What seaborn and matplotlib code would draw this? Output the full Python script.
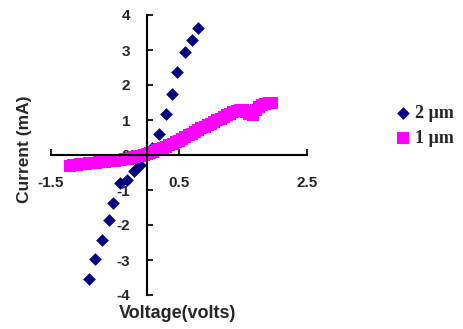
import matplotlib
matplotlib.use("Agg")
import matplotlib.pyplot as plt
import seaborn as sns
import pandas as pd

# ---- data ----
v_2um = [-0.91, -0.82, -0.71, -0.60, -0.53, -0.42, -0.31, -0.20, -0.11, 0.00,
         0.08, 0.19, 0.29, 0.39, 0.47, 0.59, 0.70, 0.79]
i_2um = [-3.54, -2.97, -2.43, -1.86, -1.37, -0.80, -0.71, -0.46, -0.29, 0.00,
         0.20, 0.60, 1.17, 1.74, 2.37, 2.94, 3.29, 3.63]

v_1um = [-1.20, -1.15, -1.10, -1.05, -1.00, -0.95, -0.90, -0.85, -0.80, -0.75,
         -0.70, -0.65, -0.60, -0.55, -0.50, -0.45, -0.40, -0.35, -0.30, -0.25,
         -0.20, -0.15, -0.10, -0.05, 0.00, 0.05, 0.10, 0.15, 0.20, 0.25,
         0.30, 0.35, 0.40, 0.45, 0.50, 0.55, 0.60, 0.65, 0.70, 0.75,
         0.80, 0.85, 0.90, 0.95, 1.00, 1.05, 1.10, 1.15, 1.20, 1.25,
         1.30, 1.35, 1.40, 1.45, 1.50, 1.55, 1.60, 1.65, 1.70, 1.75,
         1.80, 1.85, 1.90, 1.95]
i_1um = [-0.30, -0.29, -0.28, -0.27, -0.26, -0.25, -0.24, -0.23, -0.22, -0.21,
         -0.20, -0.19, -0.18, -0.17, -0.16, -0.15, -0.13, -0.12, -0.10, -0.08,
         -0.06, -0.04, -0.02, 0.00, 0.04, 0.07, 0.10, 0.13, 0.16, 0.20,
         0.24, 0.28, 0.32, 0.36, 0.41, 0.46, 0.51, 0.56, 0.61, 0.66,
         0.71, 0.76, 0.81, 0.86, 0.90, 0.95, 1.00, 1.04, 1.08, 1.13,
         1.17, 1.22, 1.26, 1.29, 1.28, 1.24, 1.17, 1.13, 1.30, 1.38,
         1.42, 1.45, 1.48, 1.50]

labels = ["2 \u00b5m", "1 \u00b5m"]
x_ticks = [-1.5, 0.5, 2.5]
y_ticks = [-4, -3, -2, -1, 0, 1, 2, 3, 4]

sns.set_style("white")
plt.rcParams["font.family"] = ["Liberation Sans", "DejaVu Sans"]

df2 = pd.DataFrame({"V": v_2um, "I": i_2um})
df1 = pd.DataFrame({"V": v_1um, "I": i_1um})

fig = plt.figure(figsize=(4.64, 3.29), dpi=100)
ax = fig.add_axes([51 / 464, 34 / 329, 256 / 464, 280 / 329])

sns.scatterplot(data=df2, x="V", y="I", marker="D", color="#000080", s=42,
                linewidth=0, label=labels[0], ax=ax)
sns.scatterplot(data=df1, x="V", y="I", marker="s", color="#FF00FF", s=80,
                linewidth=0, label=labels[1], ax=ax)

ax.set_xlim(-1.5, 2.5)
ax.set_ylim(-4, 4)
ax.spines["top"].set_visible(False)
ax.spines["right"].set_visible(False)
ax.spines["left"].set_position(("data", 0))
ax.spines["bottom"].set_position(("data", 0))
for sp in ("left", "bottom"):
    ax.spines[sp].set_linewidth(1.5)
    ax.spines[sp].set_color("black")

ax.set_xticks(x_ticks)
ax.set_xticklabels(["-1.5", "0.5", "2.5"])
ax.set_yticks(y_ticks)
ax.set_yticklabels([str(t) for t in y_ticks])
ax.tick_params(axis="x", direction="in", length=4.5, width=1.5, pad=15,
               labelsize=11, bottom=True)
ax.tick_params(axis="y", direction="in", length=4, width=1.5, pad=12,
               labelsize=11, left=True)
for lab in ax.get_xticklabels() + ax.get_yticklabels():
    lab.set_fontweight("bold")

ax.set_xlabel("")
ax.set_ylabel("")
handles, labs = ax.get_legend_handles_labels()
if ax.get_legend() is not None:
    ax.get_legend().remove()

fig.text(178 / 464, 15 / 329, "Voltage(volts)", ha="center", va="center",
         fontsize=13, fontweight="bold")
fig.text(25 / 464, 180 / 329, "Current (mA)", ha="center", va="center",
         rotation=90, fontsize=12.5, fontweight="bold")

fig.legend(handles, labs, loc="center left",
           bbox_to_anchor=(389 / 464, 1 - 126 / 329), frameon=False,
           borderpad=0, handlelength=0.6, handletextpad=0.35,
           labelspacing=0.45,
           prop={"family": ["Liberation Serif", "DejaVu Serif"],
                 "weight": "bold", "size": 13})

fig.savefig("out.png", dpi=100)
